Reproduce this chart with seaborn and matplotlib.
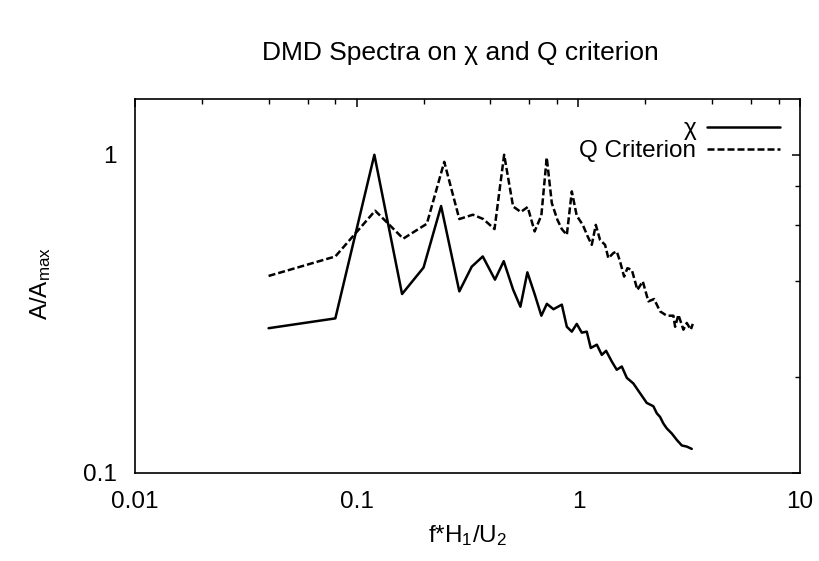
import numpy as np
import pandas as pd
import seaborn as sns
import matplotlib.pyplot as plt
from matplotlib.ticker import LogLocator, FuncFormatter, NullFormatter

# chi spectrum
chi_freq = [0.04, 0.08, 0.12, 0.16, 0.20, 0.24, 0.29, 0.33, 0.37, 0.42,
            0.46, 0.507, 0.547, 0.588, 0.634, 0.68, 0.72, 0.771, 0.841, 0.886,
            0.933, 0.982, 1.035, 1.09, 1.136, 1.21, 1.274, 1.332, 1.413, 1.488,
            1.568, 1.652, 1.769, 1.896, 2.032, 2.177, 2.255, 2.333, 2.415, 2.502,
            2.636, 2.776, 2.924, 3.08, 3.243]
chi_amp = [0.285, 0.306, 1.0, 0.365, 0.442, 0.69, 0.372, 0.445, 0.479, 0.405,
           0.463, 0.377, 0.333, 0.427, 0.365, 0.312, 0.340, 0.327, 0.338, 0.288,
           0.278, 0.294, 0.276, 0.278, 0.247, 0.253, 0.235, 0.242, 0.224, 0.211,
           0.216, 0.199, 0.191, 0.178, 0.166, 0.162, 0.154, 0.150, 0.143, 0.138,
           0.133, 0.127, 0.122, 0.121, 0.119]

# Q criterion spectrum
q_freq = [0.04, 0.08, 0.121, 0.162, 0.207, 0.248, 0.29, 0.334, 0.372, 0.418,
          0.462, 0.507, 0.549, 0.59, 0.634, 0.68, 0.719, 0.758, 0.803, 0.841,
          0.886, 0.933, 0.982, 1.046, 1.097, 1.148, 1.197, 1.251, 1.318, 1.364,
          1.437, 1.488, 1.540, 1.606, 1.662, 1.740, 1.844, 1.950, 2.067, 2.193,
          2.333, 2.502, 2.680, 2.728, 2.823, 2.973, 3.08, 3.21, 3.278]
q_amp = [0.416, 0.479, 0.667, 0.545, 0.607, 0.95, 0.628, 0.648, 0.628, 0.584,
         1.0, 0.688, 0.661, 0.685, 0.574, 0.645, 0.98, 0.705, 0.625, 0.584,
         0.560, 0.767, 0.643, 0.602, 0.556, 0.521, 0.602, 0.540, 0.521, 0.473,
         0.491, 0.497, 0.462, 0.414, 0.440, 0.435, 0.376, 0.400, 0.346, 0.352,
         0.322, 0.312, 0.312, 0.288, 0.314, 0.282, 0.296, 0.282, 0.294]

chi_df = pd.DataFrame({"freq": chi_freq, "amp": chi_amp})
q_df = pd.DataFrame({"freq": q_freq, "amp": q_amp})

sns.set_theme(style="white")
plt.rcParams['font.family'] = ['Liberation Sans', 'DejaVu Sans']
plt.rcParams['mathtext.default'] = 'regular'
plt.rcParams['text.color'] = 'black'
fs = 17.5

fig = plt.figure(figsize=(8.19, 5.61), dpi=100)
ax = fig.add_axes([0.165, 0.157, 0.812, 0.667])

sns.lineplot(data=chi_df, x="freq", y="amp", ax=ax, color="black",
             linewidth=1.8, estimator=None, label="\u03c7")
sns.lineplot(data=q_df, x="freq", y="amp", ax=ax, color="black",
             linewidth=1.8, estimator=None, label="Q Criterion",
             linestyle=(0, (2.8, 1.2)))

ax.set_xscale("log")
ax.set_yscale("log")
ax.set_xlim(0.01, 10)
ax.set_ylim(0.1, 1.5)

fmt = FuncFormatter(lambda v, p: "%g" % v)
for axis in (ax.xaxis, ax.yaxis):
    axis.set_major_locator(LogLocator(base=10, numticks=10))
    axis.set_minor_locator(LogLocator(base=10, subs=[2, 4, 6, 8], numticks=20))
    axis.set_major_formatter(fmt)
    axis.set_minor_formatter(NullFormatter())

ax.tick_params(which="both", direction="in", top=True, right=True,
               color="black", labelsize=fs, labelcolor="black")
ax.tick_params(which="major", length=6, width=1.1, pad=13)
ax.tick_params(which="minor", length=3.5, width=1.0)
for sp in ax.spines.values():
    sp.set_color("black")
    sp.set_linewidth(1.2)

ax.set_xlabel("")
ax.set_ylabel("")
fig.text(0.571, 0.045, "f*H$_1$/U$_2$", ha="center", va="center",
         fontsize=fs, color="black")
fig.text(0.049, 0.495, "A/A$_{max}$", ha="center", va="center",
         rotation=90, fontsize=fs, color="black")
fig.text(0.562, 0.906, "DMD Spectra on \u03c7 and Q criterion",
         ha="center", va="center", fontsize=19, color="black")

leg = ax.legend(loc="upper right", bbox_to_anchor=(0.970, 0.948), frameon=False,
                markerfirst=False, fontsize=fs, handlelength=3.0, labelspacing=0.0,
                borderaxespad=0.0, borderpad=0.0, handletextpad=0.45)
for t in leg.get_texts():
    t.set_color("black")

fig.savefig("out.png", dpi=100)
